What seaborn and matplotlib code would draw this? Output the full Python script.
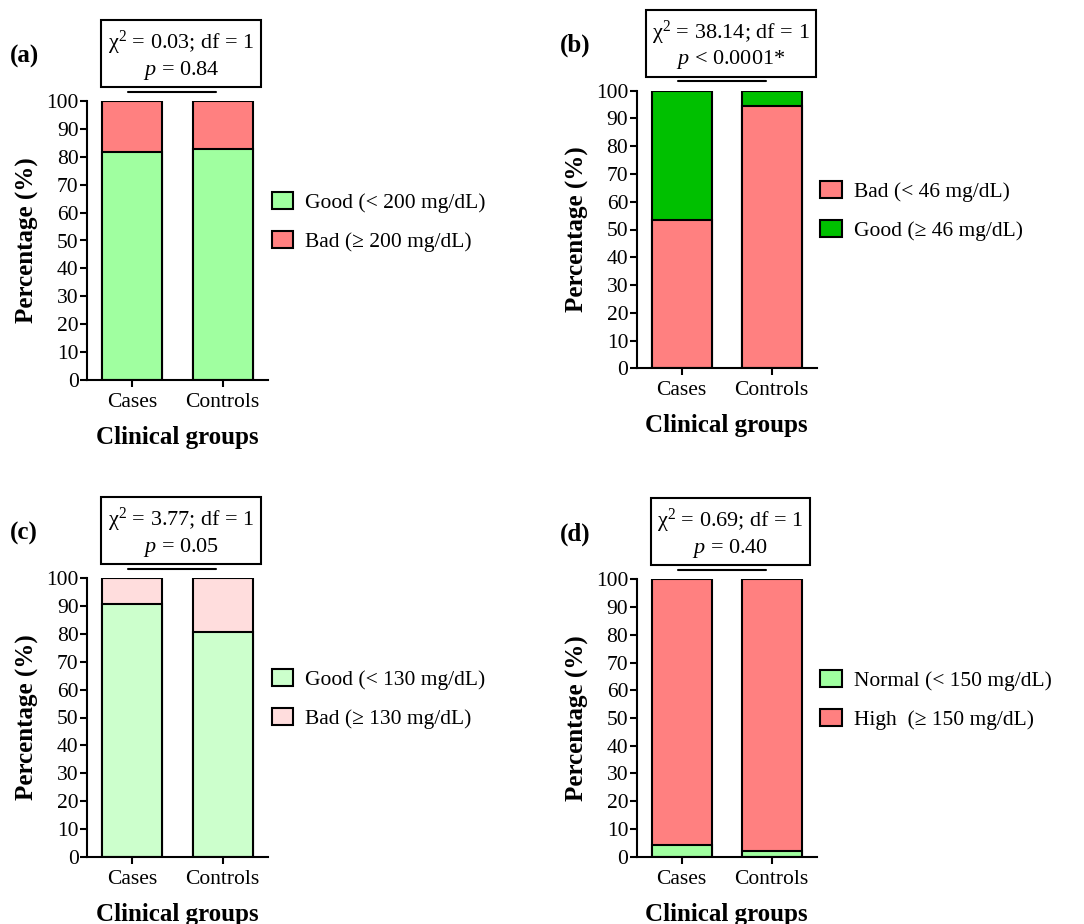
import matplotlib
matplotlib.use("Agg")
import matplotlib.pyplot as plt
from matplotlib.patches import Patch, Rectangle
from matplotlib.lines import Line2D
import numpy as np
import seaborn as sns

# categories shared by all four panels
groups = ["Cases", "Controls"]

# (a) total cholesterol
a_good = [81.7, 82.9]
a_bad = [18.3, 17.1]
a_labels = ["Good (< 200 mg/dL)", "Bad (≥ 200 mg/dL)"]
a_stats = ["χ$^{2}$ = 0.03; df = 1", "$p$ = 0.84"]

# (b) HDL
b_bad = [53.4, 94.5]
b_good = [46.6, 5.5]
b_labels = ["Bad (< 46 mg/dL)", "Good (≥ 46 mg/dL)"]
b_stats = ["χ$^{2}$ = 38.14; df = 1", "$p$ < 0.0001*"]

# (c) LDL
c_good = [90.8, 80.6]
c_bad = [9.2, 19.4]
c_labels = ["Good (< 130 mg/dL)", "Bad (≥ 130 mg/dL)"]
c_stats = ["χ$^{2}$ = 3.77; df = 1", "$p$ = 0.05"]

# (d) triglycerides
d_normal = [4.1, 1.9]
d_high = [95.9, 98.1]
d_labels = ["Normal (< 150 mg/dL)", "High  (≥ 150 mg/dL)"]
d_stats = ["χ$^{2}$ = 0.69; df = 1", "$p$ = 0.40"]

sns.set_style("ticks")
plt.rcParams["font.family"] = ["Liberation Serif", "DejaVu Serif"]
plt.rcParams["mathtext.fontset"] = "custom"
plt.rcParams["mathtext.rm"] = "Liberation Serif"
plt.rcParams["mathtext.it"] = "Liberation Serif:italic"
plt.rcParams["mathtext.bf"] = "Liberation Serif:bold"
for key in ["text.color", "axes.labelcolor", "xtick.color", "ytick.color",
            "axes.edgecolor"]:
    plt.rcParams[key] = "black"

W, H = 1084, 924
fig = plt.figure(figsize=(W / 100, H / 100), dpi=100)


def fx(px):
    return px / W


def fy(py):
    return 1 - py / H


def draw_panel(rect, bottom, top, colors, labels, stats, letter, box_dx, box_w):
    left, ytop, right, ybot = rect
    ax = fig.add_axes([fx(left), fy(ybot), fx(right - left), (ybot - ytop) / H])

    total = np.array(bottom) + np.array(top)
    sns.barplot(x=groups, y=total, color=colors[1], saturation=1, width=0.667,
                edgecolor="black", linewidth=1.5, errorbar=None, ax=ax)
    sns.barplot(x=groups, y=bottom, color=colors[0], saturation=1, width=0.667,
                edgecolor="black", linewidth=1.5, errorbar=None, ax=ax)

    ax.set_ylim(0, 100)
    ax.set_xlim(-0.5, 1.5)
    ax.set_yticks(range(0, 101, 10))
    sns.despine(ax=ax)
    for s in ["left", "bottom"]:
        ax.spines[s].set_linewidth(1.5)
    ax.tick_params(axis="both", width=1.5, length=5, labelsize=15.5, color="black",
                   labelcolor="black")
    ax.tick_params(axis="y", pad=1)
    ax.tick_params(axis="x", pad=4.5)
    ax.set_ylabel("Percentage (%)", fontsize=18, fontweight="bold", labelpad=5)
    ax.set_xlabel("Clinical groups", fontsize=18, fontweight="bold", labelpad=10)

    handles = [Patch(facecolor=c, edgecolor="black", linewidth=1.5) for c in colors]
    ax.legend(handles, labels, loc="center left", bbox_to_anchor=(1.02, 0.566),
              frameon=False, fontsize=15.5, handlelength=1.0, handleheight=0.85,
              handletextpad=0.55, labelspacing=0.84, borderpad=0, borderaxespad=0)

    # chi-square box and bracket line above the bars
    bx0 = left + box_dx
    btop = ytop - 81
    fig.add_artist(Rectangle((fx(bx0), fy(ytop - 14)), box_w / W, 67 / H,
                             transform=fig.transFigure, fill=False,
                             edgecolor="black", linewidth=1.5))
    fig.text(fx(bx0 + box_w / 2), fy(btop + 23), stats[0], ha="center",
             va="center", fontsize=16)
    fig.text(fx(bx0 + box_w / 2), fy(btop + 50), stats[1], ha="center",
             va="center", fontsize=16)
    fig.add_artist(Line2D([fx(left + 41), fx(left + 129)],
                          [fy(ytop - 9.5), fy(ytop - 9.5)],
                          transform=fig.transFigure, color="black", linewidth=1.5))
    fig.text(fx(left - 77), fy(ytop - 45), letter, ha="left", va="center",
             fontsize=18, fontweight="bold")
    return ax


draw_panel((87, 101, 268, 380), a_good, a_bad, ["#A0FFA0", "#FF8080"],
           a_labels, a_stats, "(a)", 14, 160)
draw_panel((636.7, 90.7, 816.7, 368.3), b_bad, b_good, ["#FF8080", "#00C000"],
           b_labels, b_stats, "(b)", 9, 170)
draw_panel((87, 578.3, 268, 856.7), c_good, c_bad, ["#CCFFCC", "#FFDDDD"],
           c_labels, c_stats, "(c)", 14, 160)
draw_panel((636.7, 579.3, 816.7, 856.7), d_normal, d_high, ["#A0FFA0", "#FF8080"],
           d_labels, d_stats, "(d)", 14, 159)

fig.savefig("out.png", dpi=100)
